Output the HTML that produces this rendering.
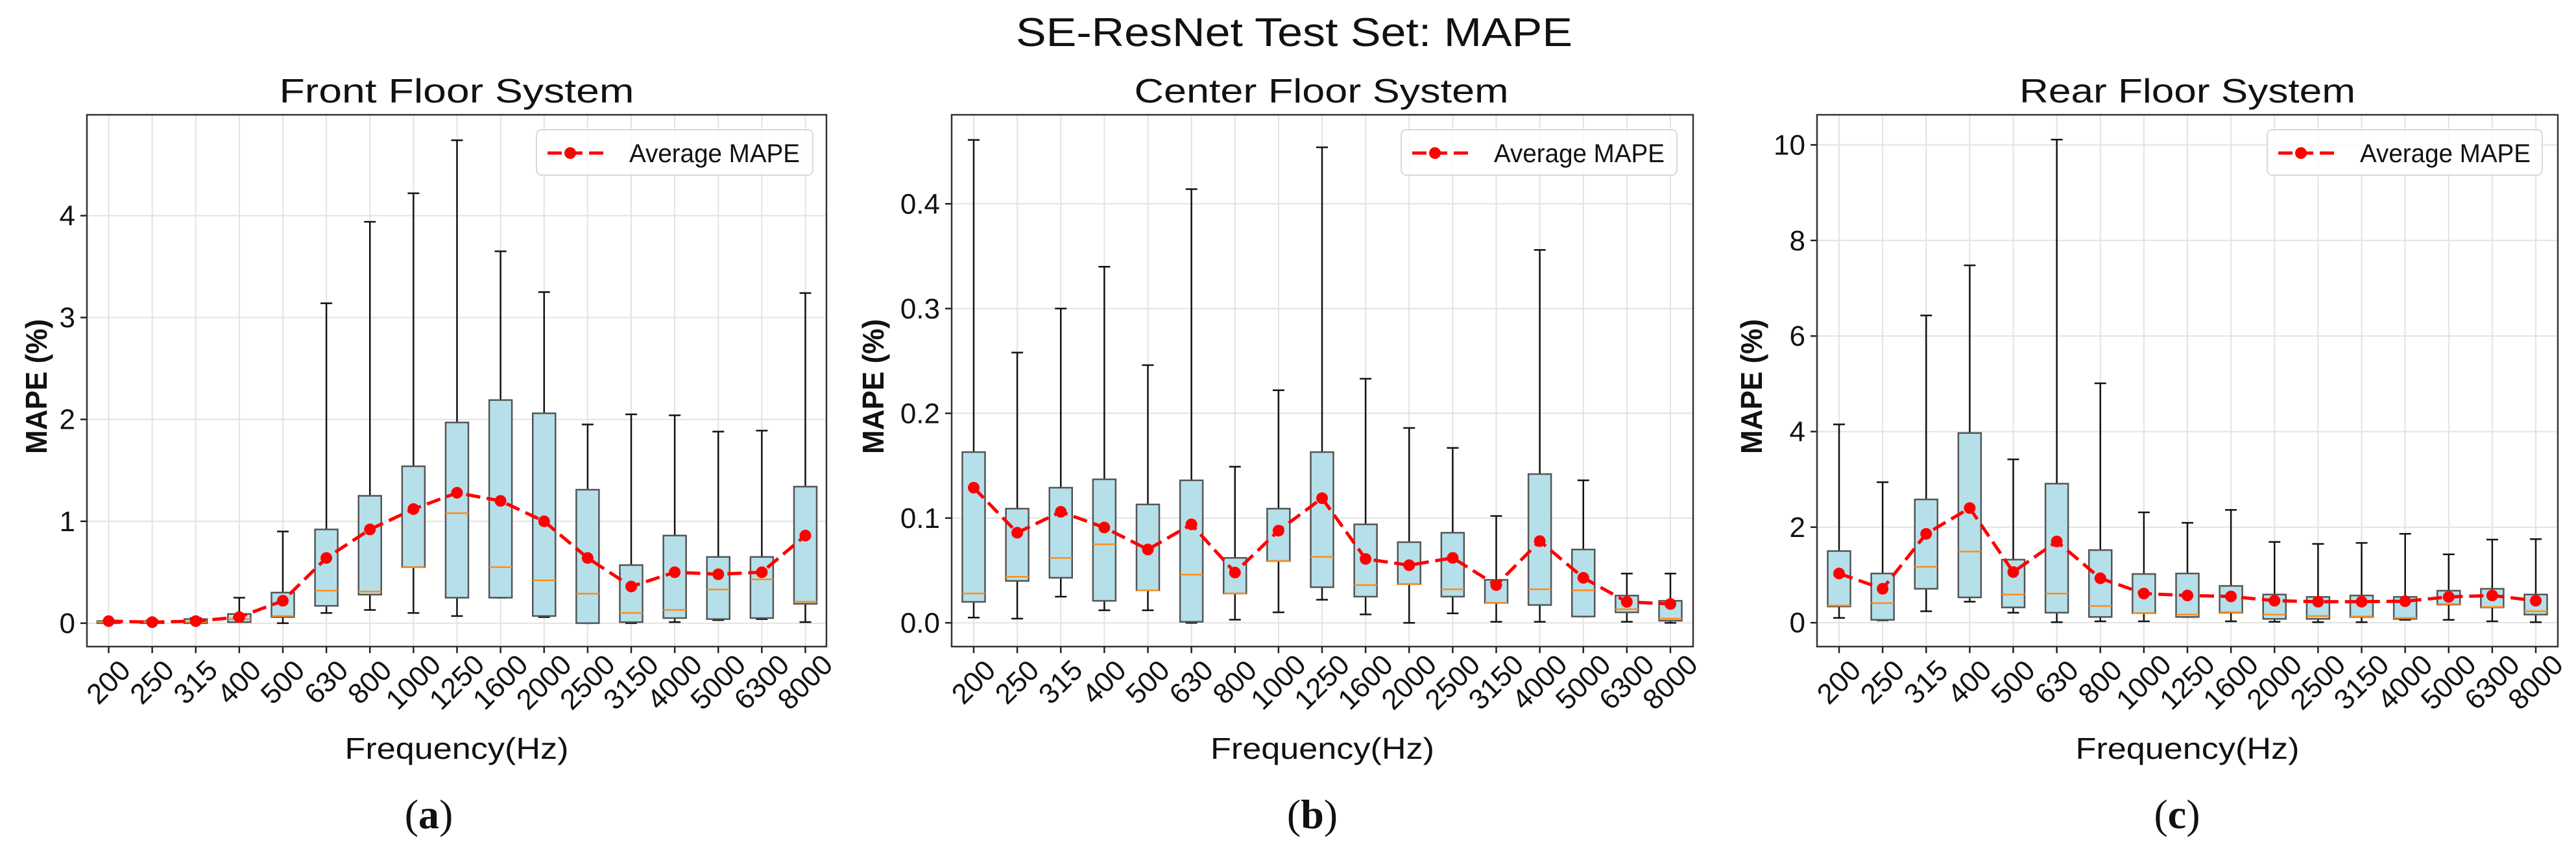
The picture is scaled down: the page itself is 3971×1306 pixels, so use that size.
<!DOCTYPE html>
<html><head><meta charset="utf-8"><style>
html,body{margin:0;padding:0;background:#fff;}
svg{display:block;}
text{font-family:"Liberation Sans","Noto Sans CJK SC",sans-serif;fill:#111;}
</style></head><body>
<svg id="fig" width="3971" height="1306" viewBox="0 0 3971 1306" xmlns="http://www.w3.org/2000/svg">
<rect width="3971" height="1306" fill="#fff"/>
<text x="1995" y="71" font-size="62" text-anchor="middle" textLength="858" lengthAdjust="spacingAndGlyphs">SE-ResNet Test Set: MAPE</text>
</svg>
<script>
const categories = ["200","250","315","400","500","630","800","1000","1250","1600","2000","2500","3150","4000","5000","6300","8000"];
// Front floor
const frontLow = [0,0,0,0.01,0,0.10,0.13,0.10,0.07,0.25,0.06,0,0,0.01,0.03,0.04,0.01];
const frontQ1 = [0,0,0,0.01,0.06,0.17,0.28,0.55,0.25,0.25,0.07,0,0.01,0.05,0.04,0.05,0.19];
const frontMed = [0.01,0.01,0.01,0.04,0.07,0.32,0.31,0.55,1.08,0.55,0.42,0.29,0.10,0.13,0.33,0.43,0.21];
const frontQ3 = [0.02,0.02,0.04,0.09,0.30,0.92,1.25,1.54,1.97,2.19,2.06,1.31,0.57,0.86,0.65,0.65,1.34];
const frontHigh = [0.03,0.03,0.05,0.25,0.90,3.14,3.94,4.22,4.74,3.65,3.25,1.95,2.05,2.04,1.88,1.89,3.24];
const frontMean = [0.02,0.01,0.02,0.06,0.22,0.64,0.92,1.12,1.28,1.20,1.00,0.64,0.36,0.50,0.48,0.50,0.86];
const frontTicks = [0,1,2,3,4];
const frontTickLabels = ["0","1","2","3","4"];
// Center floor
const centerLow = [0.005,0.004,0.025,0.012,0.012,0,0.003,0.010,0.022,0.008,0,0.009,0.001,0.001,0.006,0.001,0];
const centerQ1 = [0.020,0.040,0.043,0.021,0.031,0.001,0.028,0.059,0.034,0.025,0.037,0.025,0.019,0.017,0.006,0.010,0.002];
const centerMed = [0.028,0.044,0.062,0.075,0.031,0.046,0.028,0.059,0.063,0.036,0.037,0.032,0.019,0.032,0.031,0.013,0.004];
const centerQ3 = [0.163,0.109,0.129,0.137,0.113,0.136,0.062,0.109,0.163,0.094,0.077,0.086,0.041,0.142,0.070,0.026,0.021];
const centerHigh = [0.461,0.258,0.300,0.340,0.246,0.414,0.149,0.222,0.454,0.233,0.186,0.167,0.102,0.356,0.136,0.047,0.047];
const centerMean = [0.129,0.086,0.106,0.091,0.070,0.094,0.048,0.088,0.119,0.061,0.055,0.062,0.036,0.078,0.043,0.020,0.018];
const centerTicks = [0,0.1,0.2,0.3,0.4];
const centerTickLabels = ["0.0","0.1","0.2","0.3","0.4"];
// Rear floor
const rearLow = [0.10,0.05,0.24,0.44,0.21,0.01,0.03,0.03,0.12,0.03,0.02,0.01,0.01,0.06,0.06,0.03,0.01];
const rearQ1 = [0.34,0.06,0.71,0.53,0.32,0.21,0.12,0.20,0.12,0.21,0.08,0.08,0.12,0.08,0.38,0.32,0.17];
const rearMed = [0.36,0.41,1.17,1.49,0.59,0.61,0.35,0.20,0.17,0.22,0.17,0.14,0.13,0.10,0.39,0.33,0.24];
const rearQ3 = [1.50,1.03,2.58,3.97,1.32,2.91,1.52,1.02,1.03,0.77,0.59,0.54,0.57,0.54,0.67,0.71,0.59];
const rearHigh = [4.15,2.94,6.43,7.48,3.42,10.11,5.01,2.31,2.09,2.36,1.69,1.65,1.67,1.86,1.43,1.74,1.75];
const rearMean = [1.03,0.71,1.86,2.40,1.06,1.70,0.93,0.61,0.57,0.55,0.46,0.44,0.44,0.45,0.54,0.57,0.46];
const rearTicks = [0,2,4,6,8,10];
const rearTickLabels = ["0","2","4","6","8","10"];

const NS="http://www.w3.org/2000/svg";
const svg=document.getElementById('fig');
function mk(tag,attrs,parent,txt){const e=document.createElementNS(NS,tag);for(const k in attrs)e.setAttribute(k,attrs[k]);if(txt!==undefined)e.textContent=txt;(parent||svg).appendChild(e);return e;}

const panels=[
 {key:'front',title:'Front Floor System',cap:'a',left:134,right:1274,first:167.5,last:1241.5,ymin:-0.23,ymax:4.99,ticks:frontTicks,tl:frontTickLabels,
  low:frontLow,q1:frontQ1,med:frontMed,q3:frontQ3,high:frontHigh,mean:frontMean,titleX:704,titleW:547,ylabX:56,legL:827,legR:1253,capX:661},
 {key:'center',title:'Center Floor System',cap:'b',left:1467,right:2610,first:1501,last:2575,ymin:-0.0227,ymax:0.485,ticks:centerTicks,tl:centerTickLabels,
  low:centerLow,q1:centerQ1,med:centerMed,q3:centerQ3,high:centerHigh,mean:centerMean,titleX:2037,titleW:577,ylabX:1346,legL:2160,legR:2585,capX:2023},
 {key:'rear',title:'Rear Floor System',cap:'c',left:2801,right:3943,first:2835,last:3909,ymin:-0.50,ymax:10.63,ticks:rearTicks,tl:rearTickLabels,
  low:rearLow,q1:rearQ1,med:rearMed,q3:rearQ3,high:rearHigh,mean:rearMean,titleX:3372,titleW:518,ylabX:2700,legL:3495,legR:3919,capX:3356}
];
const TOP=177, BOT=997;

panels.forEach(p=>{
  const g=mk('g',{});
  
  
  const n=categories.length;
  const xs=i=>p.first+(p.last-p.first)*i/(n-1);
  const ys=v=>BOT-(v-p.ymin)/(p.ymax-p.ymin)*(BOT-TOP);
  categories.forEach((c,i)=>{const l=mk('line',{x1:xs(i),x2:xs(i),y1:TOP,y2:BOT,stroke:'#e3e3e3','stroke-width':2},g);
    });
  p.ticks.forEach((t,i)=>{const l=mk('line',{x1:p.left,x2:p.right,y1:ys(t),y2:ys(t),stroke:'#e3e3e3','stroke-width':2},g);
    
    const tk=mk('line',{x1:p.left-10,x2:p.left,y1:ys(t),y2:ys(t),stroke:'#222','stroke-width':2.5},g);
    
    const tx=mk('text',{x:p.left-18,y:ys(t)+15,'font-size':44,'text-anchor':'end'},g,p.tl[i]);
    });
  const bw=35, cw=18;
  categories.forEach((c,i)=>{
    const x=xs(i);
    const bg=mk('g',{},g);
    
    
    mk('line',{x1:x,x2:x,y1:ys(p.high[i]),y2:ys(p.q3[i]),stroke:'#111','stroke-width':2.5},bg);
    mk('line',{x1:x,x2:x,y1:ys(p.q1[i]),y2:ys(p.low[i]),stroke:'#111','stroke-width':2.5},bg);
    mk('line',{x1:x-cw/2,x2:x+cw/2,y1:ys(p.high[i]),y2:ys(p.high[i]),stroke:'#111','stroke-width':2.5},bg);
    mk('line',{x1:x-cw/2,x2:x+cw/2,y1:ys(p.low[i]),y2:ys(p.low[i]),stroke:'#111','stroke-width':2.5},bg);
    const h=Math.max(ys(p.q1[i])-ys(p.q3[i]),1);
    mk('rect',{x:x-bw/2,y:ys(p.q3[i]),width:bw,height:h,fill:'#b5e0ea',stroke:'#555','stroke-width':2.5},bg);
    mk('line',{x1:x-bw/2,x2:x+bw/2,y1:ys(p.med[i]),y2:ys(p.med[i]),stroke:'#ff8c1a','stroke-width':2.5},bg);
  });
  const pts=p.mean.map((v,i)=>xs(i)+','+ys(v)).join(' ');
  const ml=mk('polyline',{points:pts,fill:'none',stroke:'#ff0000','stroke-width':5,'stroke-dasharray':'22 10'},g);
  
  p.mean.forEach((v,i)=>{const c=mk('circle',{cx:xs(i),cy:ys(v),r:9,fill:'#ff0000'},g);
    });
  const sp=mk('rect',{x:p.left,y:TOP,width:p.right-p.left,height:BOT-TOP,fill:'none',stroke:'#333','stroke-width':2.5},g);
  
  categories.forEach((c,i)=>{const x=xs(i);
    const tk=mk('line',{x1:x,x2:x,y1:BOT,y2:BOT+10,stroke:'#222','stroke-width':2.5},g);
    
    const t=mk('text',{x:x,y:1052,'font-size':44,'text-anchor':'middle','dominant-baseline':'central',transform:`rotate(-45 ${x} 1052)`},g,c);
    });
  const lg=mk('g',{},g);
  
  mk('rect',{x:p.legL,y:200,width:p.legR-p.legL,height:70,rx:8,fill:'#fff','fill-opacity':0.85,stroke:'#d8d8d8','stroke-width':2},lg);
  mk('line',{x1:p.legL+17,x2:p.legL+106,y1:236,y2:236,stroke:'#ff0000','stroke-width':5,'stroke-dasharray':'22 10'},lg);
  mk('circle',{cx:p.legL+52,cy:236,r:9,fill:'#ff0000'},lg);
  const lt=mk('text',{x:p.legL+143,y:250,'font-size':40,textLength:263,lengthAdjust:'spacingAndGlyphs'},lg,'Average MAPE');
  
  const tt=mk('text',{x:p.titleX,y:158,'font-size':52,'text-anchor':'middle',textLength:p.titleW,lengthAdjust:'spacingAndGlyphs'},g,p.title);
  
  const cx=(p.left+p.right)/2;
  const xl=mk('text',{x:cx,y:1170,'font-size':46,'text-anchor':'middle',textLength:345,lengthAdjust:'spacingAndGlyphs'},g,'Frequency(Hz)');
  
  const yl=mk('text',{x:p.ylabX,y:596,'font-size':46,'font-weight':'bold','text-anchor':'middle','dominant-baseline':'central',transform:`rotate(-90 ${p.ylabX} 596)`,textLength:208,lengthAdjust:'spacingAndGlyphs'},g,'MAPE (%)');
  
  const cp=mk('text',{x:p.capX,y:1277,'font-size':64,'text-anchor':'middle',style:'font-family:"Liberation Serif",serif'},g);
  
  mk('tspan',{},cp,'(');
  mk('tspan',{'font-weight':'bold'},cp,p.cap);
  mk('tspan',{},cp,')');
});
</script>
</body></html>
